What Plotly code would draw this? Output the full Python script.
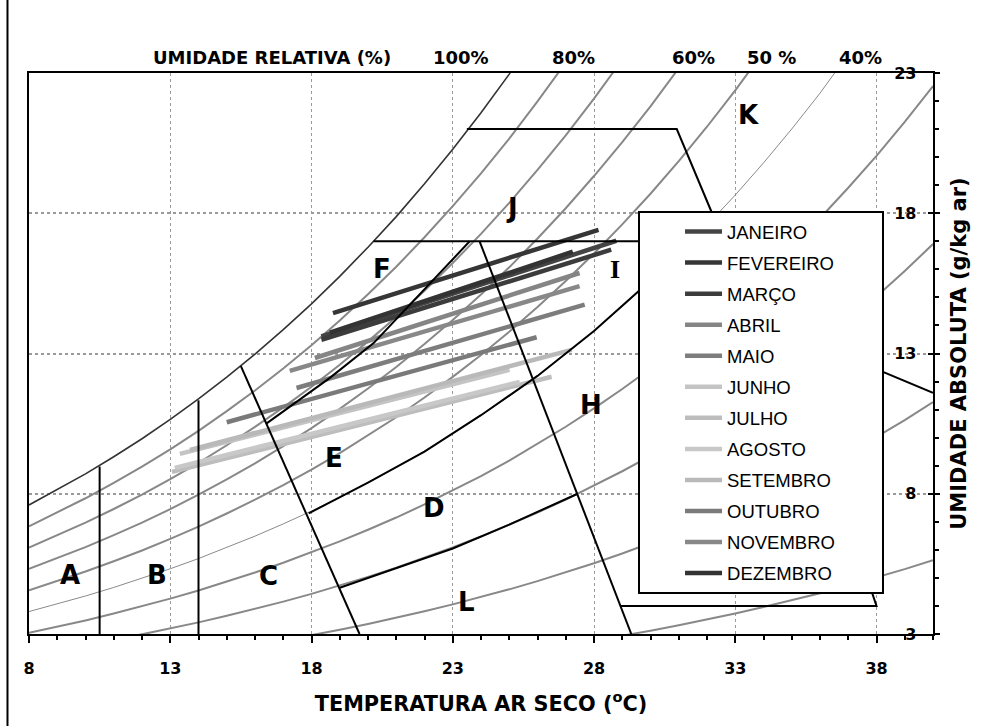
import plotly.graph_objects as go

# ---------------- data ----------------
# saturation absolute humidity (g/kg dry air) read for integer dry-bulb temperatures
T_SAT = list(range(8, 41))
W_SAT = [7.60, 8.14, 8.71, 9.32, 9.96, 10.65, 11.38, 12.16, 12.98, 13.85, 14.77,
         15.75, 16.79, 17.88, 19.05, 20.28, 21.58, 22.96, 24.43, 25.97, 27.61,
         29.34, 31.16, 33.10, 35.14, 37.30, 39.59, 42.01, 44.56, 47.27, 50.12,
         53.14, 56.34]
RH_LEVELS = [100, 90, 80, 70, 60, 50, 40, 30, 20, 10]
RH_LABELS = ["100%", "80%", "60%", "50 %", "40%"]
RH_LABEL_T = [23.28, 27.28, 31.52, 34.28, 37.43]

Y_TICKS = [3, 8, 13, 18, 23]
Y_TICK_TEXT = ["\u20073", "\u20078", "13", "18", "23"]
X_TICKS = [8, 13, 18, 23, 28, 33, 38]

MONTHS = ["JANEIRO", "FEVEREIRO", "MARÇO", "ABRIL", "MAIO", "JUNHO", "JULHO",
          "AGOSTO", "SETEMBRO", "OUTUBRO", "NOVEMBRO", "DEZEMBRO"]
T_START = [18.35, 18.76, 18.35, 18.12, 17.47, 13.34, 13.06, 13.16, 13.70, 15.00, 17.23, 18.65]
W_START = [13.61, 14.44, 13.49, 12.84, 11.77, 9.42, 8.78, 8.92, 9.56, 10.55, 12.38, 13.74]
T_END = [28.79, 28.16, 28.61, 27.49, 27.67, 25.01, 26.50, 25.37, 27.21, 25.97, 27.49, 27.25]
W_END = [17.02, 17.41, 16.70, 15.87, 14.74, 12.42, 12.17, 11.99, 13.13, 13.58, 15.40, 16.63]
MONTH_COLORS = ["#444444", "#363636", "#3c3c3c", "#858585", "#7d7d7d", "#c4c4c4",
                "#bdbdbd", "#c8c8c8", "#b9b9b9", "#7a7a7a", "#888888", "#333333"]

# zone boundaries (temperature, absolute humidity)
ZONE_LINES = [
    ([10.5, 10.5], [3.0, 8.97]),
    ([14.0, 14.0], [3.0, 11.33]),
    ([15.5, 19.7], [12.55, 3.0]),
    ([19.0, 21.0, 23.0, 25.0, 27.42], [4.65, 5.35, 6.05, 6.90, 8.0]),
    ([17.9, 20.0, 22.0, 24.0, 26.0, 28.0, 30.0], [7.30, 8.40, 9.50, 10.80, 12.20, 13.80, 15.60]),
    ([16.4, 18.65, 20.2, 23.6], [10.5, 12.13, 13.37, 17.0]),
    ([20.2, 30.5], [17.0, 17.0]),
    ([23.95, 29.32], [17.0, 3.0]),
    ([23.5, 30.93, 32.18, 32.6], [21.0, 21.0, 18.0, 17.0]),
    ([28.95, 38.0, 37.75, 37.5], [4.0, 4.0, 4.75, 5.5]),
    ([37.0, 40.0], [12.86, 11.6]),
]

ZONE_NAMES = ["A", "B", "C", "D", "E", "F", "H", "I", "J", "K", "L"]
ZONE_T = [9.45, 12.53, 16.47, 22.33, 18.81, 20.48, 27.88, 28.76, 25.08, 33.47, 23.49]
ZONE_W = [5.10, 5.10, 5.07, 7.50, 9.28, 16.0, 11.17, 15.99, 18.2, 21.52, 4.14]

# ---------------- figure ----------------
fig = go.Figure()

BOLD = "DejaVu Sans"
PAD = "\u00a0" * 8

for rh in RH_LEVELS:
    if rh == 100:
        col, w = "#333333", 1.6
    elif rh == 50:
        col, w = "#8a8a8a", 1.0
    else:
        col, w = "#888888", 2.0
    fig.add_trace(go.Scatter(
        x=T_SAT, y=[rh / 100.0 * v for v in W_SAT], mode="lines",
        line=dict(color=col, width=w), showlegend=False, hoverinfo="skip"))

for i, m in enumerate(MONTHS):
    fig.add_trace(go.Scatter(
        x=[T_START[i], T_END[i]], y=[W_START[i], W_END[i]], mode="lines",
        name=m + PAD, legendgroup=m, line=dict(color=MONTH_COLORS[i], width=4.5)))

for xs, ys in ZONE_LINES:
    fig.add_trace(go.Scatter(x=xs, y=ys, mode="lines",
                             line=dict(color="black", width=2),
                             showlegend=False, hoverinfo="skip"))

# dummy trace so that the inner half of the right-axis ticks is drawn
fig.add_trace(go.Scatter(x=[None], y=[None], yaxis="y2", showlegend=False))

for n, tx, wy in zip(ZONE_NAMES, ZONE_T, ZONE_W):
    fam = "Liberation Serif" if n == "I" else BOLD
    fig.add_annotation(x=tx, y=wy, xref="x", yref="y", text=n, showarrow=False,
                       font=dict(family=fam, size=26, weight="bold", color="black"))

TOP_Y = 1.0285
fig.add_annotation(x=16.61, y=TOP_Y, xref="x", yref="paper", text="UMIDADE RELATIVA (%)",
                   showarrow=False, yanchor="middle",
                   font=dict(family=BOLD, size=18, weight="bold", color="black"))
for lab, tx in zip(RH_LABELS, RH_LABEL_T):
    fig.add_annotation(x=tx, y=TOP_Y, xref="x", yref="paper", text=lab, showarrow=False,
                       yanchor="middle",
                       font=dict(family=BOLD, size=18, weight="bold", color="black"))

# left frame line of the picture
fig.add_shape(type="line", xref="paper", yref="paper", x0=-0.0238, x1=-0.0238,
              y0=-0.17, y1=1.14, line=dict(color="black", width=2))

tickfont = dict(family=BOLD, size=16, weight="bold", color="black")

fig.update_layout(
    width=981, height=726,
    margin=dict(l=29, r=48, t=73, b=92),
    paper_bgcolor="white", plot_bgcolor="white",
    showlegend=True,
    legend=dict(x=0.6737, y=0.7540, xanchor="left", yanchor="top",
                bgcolor="white", bordercolor="black", borderwidth=2,
                font=dict(family="Liberation Sans", size=18.5, color="black"),
                tracegroupgap=4, itemwidth=37, indentation=40),
    xaxis=dict(range=[8, 40], tickvals=X_TICKS, automargin=False,
               ticks="outside", ticklen=7, tickwidth=2, tickcolor="black",
               minor=dict(dtick=1, tick0=8, ticks="outside", ticklen=4, tickwidth=2,
                          tickcolor="black", showgrid=False),
               showgrid=True, gridcolor="#9a9a9a", griddash="dot", gridwidth=1,
               showline=True, linecolor="black", linewidth=2, mirror=True,
               zeroline=False, tickfont=tickfont, ticklabelstandoff=12,
               title=dict(text="TEMPERATURA AR SECO (<sup>o</sup>C)", standoff=19,
                          font=dict(family=BOLD, size=20.8, weight="bold", color="black"))),
    yaxis=dict(range=[3, 23], side="right", tickvals=Y_TICKS, ticktext=Y_TICK_TEXT,
               automargin=False,
               ticks="outside", ticklen=5, tickwidth=2, tickcolor="black",
               minor=dict(dtick=1, tick0=3, ticks="outside", ticklen=4, tickwidth=2,
                          tickcolor="black", showgrid=False),
               ticklabelposition="outside", ticklabelstandoff=-49,
               showgrid=True, gridcolor="#9a9a9a", griddash="dot", gridwidth=2,
               showline=True, linecolor="black", linewidth=2, mirror=True,
               zeroline=False, tickfont=tickfont,
               title=dict(text="UMIDADE ABSOLUTA (g/kg ar)", standoff=36,
                          font=dict(family=BOLD, size=21, weight="bold", color="black"))),
    yaxis2=dict(range=[3, 23], overlaying="y", side="right", tickvals=Y_TICKS,
                automargin=False,
                ticks="inside", ticklen=5, tickwidth=2, tickcolor="black",
                showticklabels=False, showgrid=False, zeroline=False, showline=False),
)

fig.write_html("out.html")
